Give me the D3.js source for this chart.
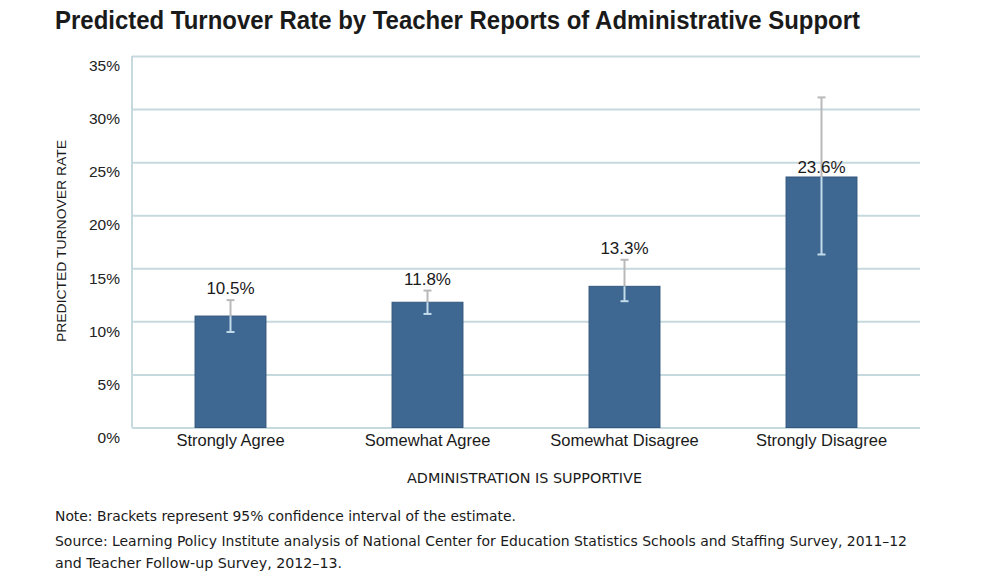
<!DOCTYPE html>
<html>
<head>
<meta charset="utf-8">
<script src="https://cdn.jsdelivr.net/npm/d3@7"></script>
<style>
  body { margin: 0; background: #fff; }
  svg { display: block; }
</style>
</head>
<body>
<svg id="chart" width="1000" height="587"></svg>
<script>
// data
const categories = ["Strongly Agree", "Somewhat Agree", "Somewhat Disagree", "Strongly Disagree"];
const rates = [10.5, 11.8, 13.3, 23.6];
const ciLow = [9.0, 10.7, 11.9, 16.3];
const ciHigh = [12.0, 12.9, 15.8, 31.1];
const yTicks = [0, 5, 10, 15, 20, 25, 30, 35];

const data = categories.map((c, i) => ({ cat: c, v: rates[i], lo: ciLow[i], hi: ciHigh[i] }));

const svg = d3.select("#chart");
const W = 1000, H = 587;
const margin = { top: 56, right: 80, bottom: 160, left: 132 };

const x = d3.scaleBand()
  .domain(categories)
  .range([margin.left, W - margin.right])
  .paddingInner(0.64)
  .paddingOuter(0.32);

const y = d3.scaleLinear()
  .domain([0, 35])
  .range([H - margin.bottom + 0.5, margin.top]);

const gridColor = "#c6d9df";
const sansFont = "'Liberation Sans', Arial, sans-serif";
const narrowFont = "'Liberation Sans Narrow', 'DejaVu Sans Condensed', 'Liberation Sans', sans-serif";

// title
svg.append("text")
  .attr("x", 55).attr("y", 29)
  .attr("font-family", sansFont)
  .attr("font-weight", "bold")
  .attr("font-size", 25)
  .attr("fill", "#1a1a1a")
  .attr("textLength", 805)
  .attr("lengthAdjust", "spacingAndGlyphs")
  .text("Predicted Turnover Rate by Teacher Reports of Administrative Support");

// gridlines
const yAxis = svg.append("g")
  .attr("transform", `translate(${margin.left},0)`)
  .call(d3.axisLeft(y).tickValues(yTicks).tickSize(-(W - margin.left - margin.right)).tickFormat(d => d + "%"));
yAxis.select(".domain").remove();
yAxis.selectAll(".tick line").attr("stroke", gridColor).attr("stroke-width", 2);
yAxis.selectAll(".tick text")
  .attr("x", -12)
  .attr("dy", "0.95em")
  .attr("font-family", sansFont)
  .attr("font-size", 15.5)
  .attr("fill", "#222");

// left axis line
svg.append("line")
  .attr("x1", margin.left).attr("x2", margin.left)
  .attr("y1", y(35)).attr("y2", y(0))
  .attr("stroke", gridColor).attr("stroke-width", 2);

// bars
svg.append("g").selectAll("rect")
  .data(data)
  .join("rect")
  .attr("x", d => x(d.cat))
  .attr("width", x.bandwidth())
  .attr("y", d => y(d.v))
  .attr("height", d => y(0) - y(d.v))
  .attr("fill", "#3e6792")
  .attr("stroke", "#33577d")
  .attr("stroke-width", 1);

// error bars: grey above bar, light blue where it crosses the bar
const cx = d => x(d.cat) + x.bandwidth() / 2;
const capW = 4;
const err = svg.append("g").selectAll("g").data(data).join("g");
err.append("line")
  .attr("x1", cx).attr("x2", cx)
  .attr("y1", d => y(d.hi)).attr("y2", d => y(d.v))
  .attr("stroke", "#b9b9b9").attr("stroke-width", 2);
err.append("line")
  .attr("x1", d => cx(d) - capW).attr("x2", d => cx(d) + capW)
  .attr("y1", d => y(d.hi)).attr("y2", d => y(d.hi))
  .attr("stroke", "#b9b9b9").attr("stroke-width", 2);
err.append("line")
  .attr("x1", cx).attr("x2", cx)
  .attr("y1", d => y(d.v)).attr("y2", d => y(d.lo))
  .attr("stroke", "#c3dcea").attr("stroke-width", 2);
err.append("line")
  .attr("x1", d => cx(d) - capW).attr("x2", d => cx(d) + capW)
  .attr("y1", d => y(d.lo)).attr("y2", d => y(d.lo))
  .attr("stroke", "#c3dcea").attr("stroke-width", 2);

// value labels: above the bracket, or at the bar top when the bracket is tall
svg.append("g").selectAll("text")
  .data(data)
  .join("text")
  .attr("x", cx)
  .attr("y", d => (d.hi - d.v > 5 ? y(d.v) - 4 : y(d.hi) - 6))
  .attr("text-anchor", "middle")
  .attr("font-family", sansFont)
  .attr("font-size", 17)
  .attr("fill", "#1a1a1a")
  .text(d => d.v.toFixed(1) + "%");

// category labels
const xAxis = svg.append("g")
  .attr("transform", `translate(0,${y(0)})`)
  .call(d3.axisBottom(x).tickSize(0));
xAxis.select(".domain").remove();
xAxis.selectAll(".tick text")
  .attr("dy", 0).attr("y", 18)
  .attr("font-family", sansFont)
  .attr("font-size", 16.5)
  .attr("fill", "#1a1a1a");

// axis titles
svg.append("text")
  .attr("transform", `translate(66,241) rotate(-90)`)
  .attr("text-anchor", "middle")
  .attr("font-family", sansFont)
  .attr("font-size", 13.5)
  .attr("fill", "#1a1a1a")
  .attr("textLength", 202)
  .attr("lengthAdjust", "spacingAndGlyphs")
  .text("PREDICTED TURNOVER RATE");

svg.append("text")
  .attr("x", 407).attr("y", 483)
  .attr("font-family", narrowFont)
  .attr("font-size", 14.5)
  .attr("fill", "#1a1a1a")
  .attr("textLength", 235)
  .attr("lengthAdjust", "spacingAndGlyphs")
  .text("ADMINISTRATION IS SUPPORTIVE");

// notes
const notes = [
  { t: "Note: Brackets represent 95% confidence interval of the estimate.", y: 521, w: 461 },
  { t: "Source: Learning Policy Institute analysis of National Center for Education Statistics Schools and Staffing Survey, 2011\u201312", y: 546, w: 852 },
  { t: "and Teacher Follow-up Survey, 2012\u201313.", y: 568, w: 287 }
];
svg.append("g").selectAll("text")
  .data(notes)
  .join("text")
  .attr("x", 55)
  .attr("y", d => d.y)
  .attr("font-family", narrowFont)
  .attr("font-size", 14.5)
  .attr("fill", "#1a1a1a")
  .attr("textLength", d => d.w)
  .attr("lengthAdjust", "spacingAndGlyphs")
  .text(d => d.t);
</script>
</body>
</html>
